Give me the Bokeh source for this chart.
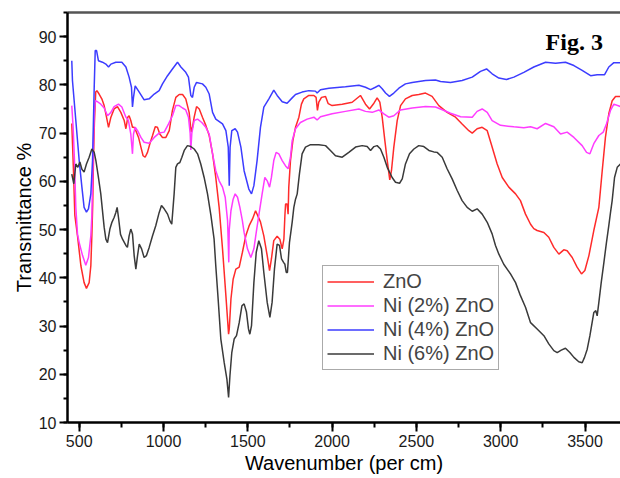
from bokeh.plotting import figure
from bokeh.models import (Range1d, SingleIntervalTicker, FixedTicker, LinearAxis,
                          Label, Legend, LegendItem)
from bokeh.embed import file_html
from bokeh.resources import INLINE

# ---------------- data ----------------
series_names = ["ZnO", "Ni (2%) ZnO", "Ni (4%) ZnO", "Ni (6%) ZnO"]

zno_wn = [456, 466, 474, 490, 510, 529, 543, 559, 569, 575, 580, 585, 590, 598, 605, 618, 634, 648,
          662, 674, 688, 707, 727, 747, 767, 777, 788, 796, 806, 816, 826, 836, 852, 866, 879, 891,
          905, 919, 935, 951, 964, 978, 994, 1014, 1034, 1053, 1073, 1093, 1113, 1132, 1152, 1164,
          1172, 1182, 1196, 1212, 1231, 1251, 1271, 1291, 1310, 1330, 1350, 1370, 1386, 1390, 1400,
          1413, 1429, 1449, 1468, 1488, 1508, 1528, 1546, 1575, 1595, 1615, 1629, 1640, 1654, 1674,
          1690, 1704, 1714, 1720, 1724, 1733, 1739, 1743, 1753, 1767, 1783, 1803, 1818, 1832, 1862,
          1892, 1905, 1913, 1921, 1937, 1961, 1977, 2000, 2060, 2119, 2168, 2198, 2222, 2248, 2267,
          2283, 2297, 2313, 2327, 2342, 2352, 2366, 2386, 2406, 2435, 2475, 2514, 2554, 2593, 2633,
          2682, 2732, 2771, 2811, 2831, 2860, 2890, 2920, 2949, 2979, 3009, 3048, 3088, 3117, 3147,
          3177, 3196, 3216, 3256, 3285, 3315, 3345, 3374, 3394, 3424, 3453, 3479, 3499, 3523, 3552,
          3582, 3602, 3621, 3641, 3661, 3681, 3710]
zno_t = [72.0, 62.2, 53.0, 48.7, 42.5, 39.0, 37.8, 39.0, 42.5, 48.7, 55.0, 65.0, 72.0, 78.5, 78.8, 78.1, 77.1, 75.7,
         73.3, 71.2, 73.3, 75.0, 75.5, 74.3, 72.6, 70.9, 73.3, 73.6, 72.6, 71.2, 71.2, 70.5, 69.1, 67.1, 65.3, 65.0,
         66.0, 67.8, 69.5, 71.3, 71.2, 69.8, 69.1, 69.1, 70.5, 74.7, 77.4, 78.0, 78.0, 77.1, 74.3, 70.2,
         71.2, 73.3, 75.5, 75.0, 73.3, 71.6, 69.5, 65.7, 60.8, 54.6, 46.0, 36.3, 28.3, 29.4, 35.6,
         39.7, 41.8, 42.2, 45.3, 48.7, 50.8, 52.2, 53.9, 51.6, 48.7, 44.6, 41.5, 43.9, 47.7, 48.6,
         48.0, 46.0, 48.0, 52.9, 55.3, 55.3, 53.2, 58.8, 64.3, 68.4, 71.2, 73.3, 76.0, 77.1, 77.8,
         77.8, 77.4, 74.7, 76.4, 77.4, 77.6, 76.1, 75.7, 76.0, 76.4, 77.8, 76.0, 75.0, 76.2, 77.3,
         76.4, 73.3, 68.4, 64.3, 60.3, 62.2, 67.1, 72.6, 75.7, 77.1, 77.8, 78.0, 78.3, 77.6, 75.7,
         74.3, 73.3, 71.9, 70.5, 70.0, 70.9, 71.2, 70.5, 67.1, 63.6, 60.8, 58.8, 57.4, 56.0, 53.2,
         51.1, 50.2, 49.8, 49.4, 48.4, 46.3, 44.9, 45.8, 45.6, 44.2, 42.2, 40.8, 41.5, 44.6, 49.8,
         54.6, 62.2, 69.1, 74.0, 76.7, 77.6, 77.6]

ni2_wn = [456, 464, 472, 480, 490, 500, 520, 539, 555, 569, 575, 583, 589, 595, 609, 628, 648, 668,
          688, 707, 733, 753, 777, 792, 806, 816, 822, 832, 846, 866, 885, 915, 945, 974, 1004, 1030,
          1053, 1073, 1093, 1113, 1132, 1148, 1158, 1162, 1168, 1182, 1202, 1227, 1251, 1271, 1291,
          1310, 1330, 1350, 1366, 1380, 1385, 1387, 1390, 1400, 1413, 1425, 1439, 1453, 1468, 1478,
          1498, 1518, 1536, 1550, 1565, 1585, 1601, 1615, 1629, 1640, 1654, 1668, 1684, 1704, 1724,
          1739, 1753, 1763, 1783, 1812, 1852, 1892, 1911, 1931, 2000, 2079, 2159, 2198, 2238, 2277,
          2307, 2336, 2366, 2406, 2475, 2554, 2613, 2643, 2702, 2762, 2831, 2860, 2890, 2920, 2949,
          2999, 3078, 3137, 3177, 3216, 3266, 3315, 3355, 3394, 3434, 3483, 3509, 3529, 3552, 3582,
          3608, 3627, 3651, 3671, 3710]
ni2_t = [75.7, 71.2, 64.3, 54.6, 49.0, 47.3, 44.6, 42.6, 44.2, 48.7, 52.9, 65.7, 74.0, 76.7, 76.5, 76.0, 75.2, 73.6,
         74.3, 75.5, 76.0, 75.4, 73.3, 72.6, 69.8, 65.7, 69.8, 71.2, 70.5, 69.1, 68.1, 67.9, 69.1, 70.0, 70.2, 71.9,
         73.6, 75.7, 75.7, 75.2, 74.8, 73.3, 70.0, 66.5, 70.0, 72.6, 72.9, 72.2, 71.2, 69.8, 65.7,
         62.2, 60.1, 58.8, 56.7, 51.8, 46.0, 43.2, 50.0, 53.9, 56.3, 57.4, 56.7, 54.6, 51.8, 49.4,
         46.0, 44.2, 46.0, 49.4, 52.9, 57.4, 60.8, 60.1, 58.8, 60.8, 64.3, 66.0, 65.7, 64.3, 63.2,
         62.6, 65.0, 68.4, 70.9, 72.2, 72.9, 73.3, 72.7, 73.4, 74.0, 74.5, 75.0, 74.5, 74.3, 74.8,
         74.0, 73.3, 73.6, 74.8, 75.2, 75.5, 75.4, 75.0, 74.1, 73.4, 73.3, 74.5, 75.0, 74.3, 72.6,
         71.6, 71.3, 71.1, 71.3, 70.9, 72.0, 71.3, 69.8, 70.2, 69.1, 67.4, 66.0, 65.7, 67.8, 69.5,
         70.2, 71.9, 74.7, 76.0, 75.5]

ni4_wn = [456, 460, 480, 500, 516, 529, 543, 555, 569, 579, 589, 595, 603, 614, 638, 658, 674, 688,
          717, 753, 777, 796, 810, 816, 822, 832, 856, 885, 915, 945, 974, 994, 1024, 1053, 1083,
          1103, 1132, 1148, 1162, 1172, 1182, 1196, 1231, 1251, 1271, 1291, 1310, 1350, 1370, 1384,
          1390, 1395, 1405, 1425, 1439, 1459, 1478, 1506, 1522, 1536, 1555, 1575, 1595, 1625, 1654,
          1674, 1704, 1733, 1763, 1783, 1822, 1862, 1901, 1911, 1931, 1981, 2079, 2159, 2198, 2228,
          2257, 2277, 2297, 2317, 2340, 2366, 2396, 2435, 2475, 2554, 2613, 2643, 2702, 2771, 2831,
          2880, 2916, 2949, 2989, 3034, 3078, 3137, 3196, 3266, 3325, 3384, 3434, 3483, 3533, 3572,
          3616, 3641, 3671, 3710]
ni4_t = [85.0, 80.9, 72.6, 64.3, 58.8, 54.6, 53.6, 54.3, 57.4, 64.3, 79.5, 87.1, 87.1, 85.0, 84.7, 84.3, 83.7, 84.3,
         84.7, 84.7, 83.7, 81.6, 79.5, 75.4, 77.4, 79.8, 78.5, 76.9, 77.1, 78.1, 78.8, 80.2, 81.9, 83.3, 84.7,
         83.7, 82.6, 81.6, 77.8, 77.4, 79.5, 80.5, 80.2, 79.5, 78.1, 74.3, 72.9, 71.9, 70.5, 67.1,
         59.1, 67.1, 70.5, 70.9, 70.2, 67.1, 62.2, 58.4, 57.4, 59.1, 64.3, 71.2, 75.4, 77.1, 78.9,
         77.8, 76.5, 76.2, 77.3, 78.0, 78.5, 78.8, 78.7, 78.3, 79.0, 79.3, 79.6, 79.9, 79.5, 79.0,
         79.5, 79.9, 79.2, 78.3, 77.6, 78.3, 79.3, 80.2, 80.5, 80.9, 81.0, 80.7, 80.5, 80.9, 81.6,
         82.8, 83.3, 82.3, 81.4, 81.1, 81.6, 82.6, 83.7, 84.7, 84.5, 84.7, 84.0, 83.0, 81.9, 82.1,
         82.1, 83.7, 84.6, 84.6]

ni6_wn = [456, 468, 480, 492, 504, 516, 529, 543, 559, 575, 589, 599, 614, 628, 648, 658, 668, 682,
          694, 707, 717, 725, 733, 745, 757, 777, 786, 796, 806, 816, 826, 836, 846, 856, 870, 885,
          899, 915, 935, 954, 974, 988, 1004, 1024, 1038, 1049, 1063, 1073, 1083, 1097, 1109, 1123,
          1142, 1162, 1182, 1202, 1221, 1241, 1261, 1281, 1300, 1310, 1324, 1340, 1360, 1376, 1386,
          1394, 1405, 1419, 1433, 1449, 1465, 1478, 1492, 1504, 1512, 1522, 1536, 1550, 1565, 1581,
          1595, 1615, 1631, 1644, 1658, 1674, 1688, 1700, 1712, 1720, 1728, 1735, 1747, 1763, 1773,
          1783, 1793, 1806, 1822, 1842, 1872, 1921, 1961, 1990, 2020, 2060, 2099, 2139, 2178, 2208,
          2228, 2248, 2267, 2287, 2307, 2327, 2356, 2376, 2400, 2416, 2435, 2459, 2485, 2514, 2544,
          2574, 2603, 2623, 2653, 2682, 2712, 2742, 2771, 2801, 2831, 2860, 2890, 2920, 2949, 2969,
          2989, 3018, 3058, 3088, 3117, 3147, 3177, 3216, 3256, 3285, 3315, 3335, 3359, 3384, 3410,
          3434, 3463, 3483, 3497, 3513, 3529, 3542, 3552, 3564, 3572, 3582, 3596, 3612, 3627, 3641,
          3651, 3661, 3675, 3691, 3710]
ni6_t = [61.5, 59.5, 63.6, 62.9, 64.0, 62.5, 61.9, 63.6, 65.0, 66.7, 66.0, 64.3, 60.8, 57.4, 50.5, 48.0, 47.3, 50.1,
         51.5, 52.5, 53.5, 54.6, 52.5, 49.0, 48.0, 46.7, 46.3, 48.7, 50.1, 49.1, 44.6, 41.8, 44.6, 47.0, 46.0, 44.2,
         44.6, 46.3, 48.7, 50.8, 53.5, 55.0, 54.3, 53.2, 51.8, 51.1, 57.4, 62.9, 63.6, 63.9, 65.0, 66.4,
         67.4, 67.2, 66.7, 65.7, 63.6, 60.8, 57.4, 53.0, 48.0, 42.5, 35.6, 27.3, 22.4, 19.0, 15.2,
         19.7, 24.5, 27.3, 28.0, 30.7, 34.2, 34.6, 32.9, 29.4, 28.3, 30.1, 39.0, 45.3, 47.7, 46.0,
         41.1, 34.9, 31.8, 34.9, 41.8, 47.0, 46.7, 43.9, 43.2, 42.8, 41.1, 41.1, 47.3, 51.5, 54.6,
         56.3, 57.4, 61.5, 65.7, 67.1, 67.6, 67.6, 67.4, 66.4, 65.3, 65.0, 66.0, 67.1, 67.4, 67.2,
         66.4, 67.2, 67.4, 66.7, 65.0, 62.9, 60.8, 59.8, 59.6, 60.5, 63.6, 65.7, 66.7, 67.4, 67.2,
         66.4, 66.1, 66.0, 65.0, 62.6, 60.5, 58.1, 56.0, 54.6, 53.8, 54.3, 53.2, 51.5, 49.1, 46.7,
         44.9, 42.8, 40.8, 39.0, 36.3, 33.9, 30.7, 29.4, 28.0, 26.3, 24.9, 24.5, 25.0, 25.4, 24.5,
         23.5, 22.6, 22.4, 23.5, 25.2, 28.0, 30.7, 32.8, 33.2, 32.1, 34.9, 39.0, 43.2, 47.3, 50.8,
         53.5, 56.0, 60.8, 62.9, 63.6]

x_ticks_interval = 500
y_ticks_interval = 10
x_label = "Wavenumber (per cm)"
y_label = "Transmittance %"
fig_label = "Fig. 3"

# ---------------- figure ----------------
FONT = "Liberation Sans"
p = figure(width=620, height=478, output_backend="svg", toolbar_location=None,
           x_range=Range1d(430.6, 3710.4), y_range=Range1d(10, 95),
           min_border_left=67, min_border_right=0, min_border_top=12, min_border_bottom=56)
p.background_fill_color = "white"
p.border_fill_color = "white"
p.outline_line_color = None
p.xgrid.grid_line_color = None
p.ygrid.grid_line_color = None

xa = p.xaxis[0]
xa.ticker = SingleIntervalTicker(interval=x_ticks_interval, num_minor_ticks=2)
xa.major_tick_out = 9
xa.minor_tick_out = 5
xa.axis_label = x_label
xa.axis_label_standoff = 2
ya = p.yaxis[0]
ya.ticker = SingleIntervalTicker(interval=y_ticks_interval, num_minor_ticks=2)
ya.major_tick_out = 8
ya.minor_tick_out = 4
ya.axis_label = y_label
ya.axis_label_standoff = 1
for ax in (xa, ya):
    ax.major_tick_in = 0
    ax.minor_tick_in = 0
    ax.axis_line_width = 2.5
    ax.axis_line_color = "black"
    ax.major_tick_line_width = 2
    ax.minor_tick_line_width = 2
    ax.major_tick_line_color = "black"
    ax.minor_tick_line_color = "black"
    ax.major_label_text_font = FONT
    ax.major_label_text_font_size = "16px"
    ax.major_label_text_color = "#1a1a1a"
    ax.major_label_standoff = 3
    ax.axis_label_text_font = FONT
    ax.axis_label_text_font_size = "20px"
    ax.axis_label_text_font_style = "normal"
    ax.axis_label_text_color = "black"

top = LinearAxis(ticker=FixedTicker(ticks=[]), axis_line_color="#555555", axis_line_width=2.5,
                 major_tick_out=0, minor_tick_out=0, major_tick_in=0, minor_tick_in=0,
                 major_label_text_font_size="0px")
p.add_layout(top, "above")

colors = ["#ff2b2b", "#ff3cff", "#3c3cff", "#3a3a3a"]
data = [(zno_wn, zno_t), (ni2_wn, ni2_t), (ni4_wn, ni4_t), (ni6_wn, ni6_t)]
items = []
for name, (wn, t), c in zip(series_names, data, colors):
    n = min(len(wn), len(t))
    r = p.line(wn[:n], t[:n], line_color=c, line_width=1.5)
    items.append(LegendItem(label=name, renderers=[r]))

legend = Legend(items=items, location=(255, 52), label_text_font=FONT, label_text_font_size="20px",
                glyph_width=47, glyph_height=23, label_height=23, label_standoff=9, padding=4,
                spacing=1, border_line_color="#555555", border_line_width=1.5,
                background_fill_color="white", background_fill_alpha=1.0, margin=0)
p.add_layout(legend, "center")

p.add_layout(Label(x=3266, y=88.8, text=fig_label, text_font="Liberation Serif", text_font_style="bold",
                   text_font_size="24px", text_baseline="alphabetic", text_color="black"))

open("out.html", "w").write(file_html(p, INLINE))
